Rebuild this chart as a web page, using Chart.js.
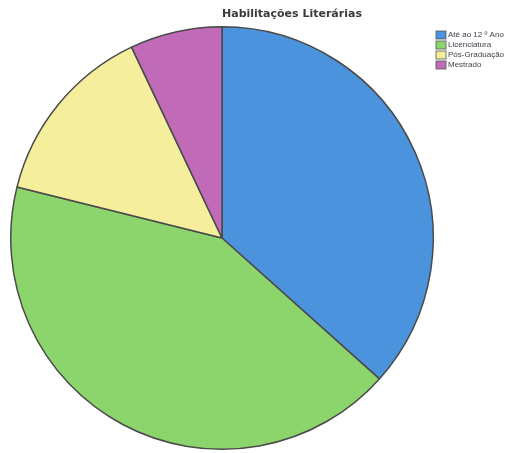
<!DOCTYPE html>
<html>
<head>
<meta charset="utf-8">
<script src="https://cdn.jsdelivr.net/npm/chart.js@4/dist/chart.umd.min.js"></script>
<style>
  html, body { margin: 0; padding: 0; background: #ffffff; }
  #wrap { width: 526px; height: 453px; position: relative; }
</style>
</head>
<body>
<div id="wrap"><canvas id="pie"></canvas></div>
<script>
// habilitações dos inquiridos (nº de respostas)
const labels = ['Até ao 12 º Ano', 'Licenciatura', 'Pós-Graduação', 'Mestrado'];
const counts = [26, 30, 10, 5];
const colors = ['#4b93dc', '#8cd46c', '#f5ee9c', '#c06ab8'];
const TITLE = 'Habilitações Literárias';

// title + legend drawn by hand so the pie keeps its place
const overlay = {
  id: 'overlay',
  afterDraw(chart) {
    const { ctx } = chart;
    ctx.save();
    ctx.fillStyle = '#3a3a3a';
    ctx.font = 'bold 11px "DejaVu Sans", sans-serif';
    ctx.textAlign = 'center';
    ctx.textBaseline = 'middle';
    ctx.fillText(TITLE, 292, 14);

    ctx.font = '8px "Liberation Sans", Arial, sans-serif';
    ctx.textAlign = 'left';
    labels.forEach((lab, i) => {
      const y = 35 + i * 10;
      ctx.fillStyle = colors[i];
      ctx.fillRect(436, y - 4, 10, 8);
      ctx.strokeStyle = '#555555';
      ctx.lineWidth = 0.8;
      ctx.strokeRect(436, y - 4, 10, 8);
      ctx.fillStyle = '#3a3f4a';
      ctx.fillText(lab, 448, y);
    });
    ctx.restore();
  }
};

new Chart(document.getElementById('pie'), {
  type: 'pie',
  data: {
    labels: labels,
    datasets: [{
      data: counts,
      backgroundColor: colors,
      borderColor: '#4a4a4a',
      borderWidth: 1.5
    }]
  },
  plugins: [overlay],
  options: {
    responsive: true,
    maintainAspectRatio: false,
    animation: false,
    layout: { padding: { left: 10, right: 92, top: 26, bottom: 3 } },
    plugins: {
      legend: { display: false },
      title: { display: false },
      tooltip: { enabled: false }
    }
  }
});
</script>
</body>
</html>
